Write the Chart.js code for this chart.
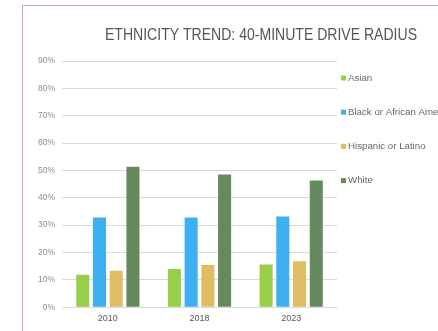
<!DOCTYPE html>
<html>
<head>
<meta charset="utf-8">
<script src="https://cdn.jsdelivr.net/npm/chart.js@4/dist/chart.umd.min.js"></script>
<style>
  html, body { margin: 0; padding: 0; background: #fff; overflow: hidden; }
  #frame { position: absolute; left: 22px; top: 5px; width: 520px; height: 400px; border: 1px solid #d9a0a8; }
  #wrap { position: absolute; left: 0; top: 0; width: 415px; height: 324px; }
</style>
</head>
<body>
<div id="frame"><div id="wrap"><canvas id="myChart"></canvas></div></div>
<script>
// share of population by group, in percent
const years = ['2010', '2018', '2023'];
const asian = [11.9, 14.0, 15.6];
const black = [32.8, 32.8, 33.2];
const hispanic = [13.3, 15.4, 16.8];
const white = [51.3, 48.5, 46.3];
const groupNames = ['Asian', 'Black or African American', 'Hispanic or Latino', 'White'];
const groupColors = ['#98cf4a', '#3eaff0', '#e0bd62', '#668a5e'];
const yMax = 90;
const yStep = 10;
const chartTitle = 'ETHNICITY TREND: 40-MINUTE DRIVE RADIUS';

const seriesValues = [asian, black, hispanic, white];

// title and the legend column on the right are drawn by hand
const sideBits = {
    id: 'sideBits',
    afterDraw(chart) {
        const ctx = chart.ctx;
        const area = chart.chartArea;
        ctx.save();
        // no narrow face installed, so squeeze the title to its width
        ctx.font = '17px "Liberation Sans", Arial, sans-serif';
        ctx.fillStyle = '#555555';
        ctx.textAlign = 'center';
        ctx.textBaseline = 'alphabetic';
        ctx.fillText(chartTitle, 238, 33.5, 312);

        ctx.font = '9.7px "Liberation Sans", Arial, sans-serif';
        ctx.textAlign = 'left';
        ctx.textBaseline = 'middle';
        chart.data.datasets.forEach((ds, i) => {
            const y = area.top + 17 + i * 34.2;
            ctx.fillStyle = ds.backgroundColor;
            ctx.fillRect(area.right + 4, y - 2.5, 5, 5);
            ctx.fillStyle = '#666666';
            ctx.fillText(ds.label, area.right + 11, y);
        });
        ctx.restore();
    }
};

const ctx = document.getElementById('myChart').getContext('2d');
const myChart = new Chart(ctx, {
    type: 'bar',
    data: {
        labels: years,
        datasets: groupNames.map((name, i) => ({
            label: name,
            data: seriesValues[i],
            backgroundColor: groupColors[i],
            borderWidth: 0,
            categoryPercentage: 0.73,
            barPercentage: 0.78
        }))
    },
    options: {
        responsive: true,
        maintainAspectRatio: false,
        animation: false,
        layout: {
            padding: { top: 55, right: 101, bottom: 0, left: 0 }
        },
        plugins: {
            legend: { display: false },
            title: { display: false },
            tooltip: { enabled: false }
        },
        scales: {
            x: {
                grid: { display: false, drawTicks: false },
                border: { display: true, color: '#d9d9d9' },
                ticks: {
                    color: '#595959',
                    padding: 6,
                    font: { family: '"Liberation Sans", Arial, sans-serif', size: 9 }
                }
            },
            y: {
                min: 0,
                max: yMax,
                afterFit(axis) { axis.width = 39; },
                grid: { color: '#d9d9d9', drawTicks: false },
                border: { display: false },
                ticks: {
                    stepSize: yStep,
                    padding: 7,
                    color: '#8c8c8c',
                    font: { family: '"Liberation Sans", Arial, sans-serif', size: 8.5 },
                    callback: v => v + '%'
                }
            }
        }
    },
    plugins: [sideBits]
});
</script>
</body>
</html>
